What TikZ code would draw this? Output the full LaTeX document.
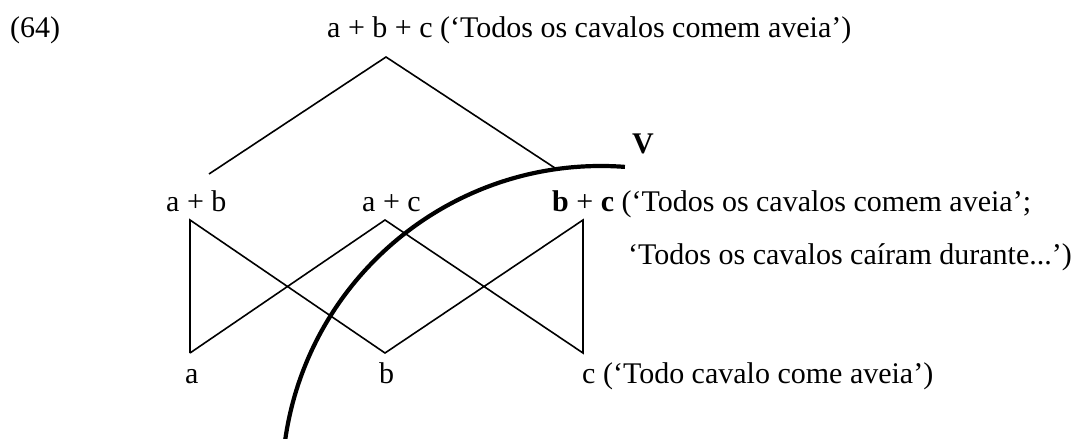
\documentclass[tikz,border=0pt]{standalone}
\usepackage{fontspec}
\setmainfont{Liberation Serif}
\begin{document}
\begin{tikzpicture}[x=1pt,y=1pt,
  lbl/.style={anchor=base west,inner sep=0pt,font=\fontsize{30}{34}\selectfont},
  edge/.style={line width=1.6pt,line join=miter},
  cut/.style={line width=4.2pt}]
\useasboundingbox (0,0) rectangle (1077,-439);
% texts
\node[lbl] (num) at (10,-37) {(64)};
\node[lbl] (top) at (327,-37) {a + b + c (‘Todos os cavalos comem aveia’)};
\node[lbl] (ab) at (166,-211) {a + b};
\node[lbl] (ac) at (362,-211) {a + c};
\node[lbl] (bc) at (552,-211) {\textbf{b} + \textbf{c} (‘Todos os cavalos comem aveia’;};
\node[lbl] (bc2) at (628,-264) {‘Todos os cavalos caíram durante...’)};
\node[lbl] (a) at (185,-383) {a};
\node[lbl] (b) at (379,-383) {b};
\node[lbl] (c) at (582,-383) {c (‘Todo cavalo come aveia’)};
\node[lbl] (V) at (632,-153) {\textbf{V}};
% lattice vertices
\coordinate (apex) at (386,-57);
\coordinate (tl) at (209,-174);
\coordinate (tr) at (558,-170);
\coordinate (vab) at (190,-220);
\coordinate (vac) at (385,-220);
\coordinate (vbc) at (583,-220);
\coordinate (va) at (190,-353);
\coordinate (vb) at (385,-353);
\coordinate (vc) at (583,-353);
% connectors
\draw[edge] (tl) -- (apex) -- (tr);
\draw[edge] (va) -- (vab) -- (vb) -- (vbc) -- (vc) -- (vac) -- (va);
% cut line
\coordinate (cutstart) at (624.9,-166.9);
\draw[cut] (cutstart) arc[start angle=85.7,end angle=172.5,radius=319];
\end{tikzpicture}
\end{document}
